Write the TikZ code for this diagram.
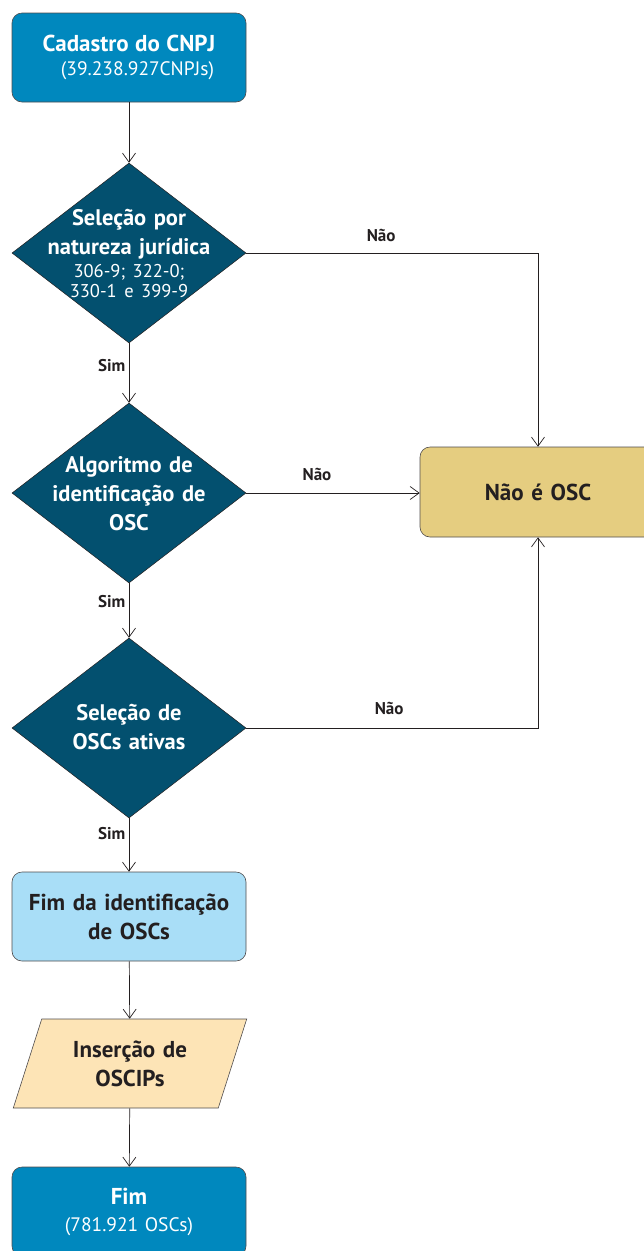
\documentclass[tikz,border=0pt]{standalone}
\usepackage{fontspec}
\setmainfont{PT Sans}
\usetikzlibrary{shapes.geometric,arrows.meta}

\definecolor{cnpjblue}{RGB}{0,136,190}
\definecolor{decblue}{RGB}{3,80,111}
\definecolor{naosand}{RGB}{229,205,128}
\definecolor{fimsky}{RGB}{169,222,247}
\definecolor{oscpeach}{RGB}{253,228,182}
\definecolor{inkgray}{RGB}{35,31,32}

\newcommand{\bigfont}{\bfseries\fontsize{23}{29}\selectfont}
\newcommand{\subfont}{\mdseries\fontsize{19.5}{24}\selectfont}

\begin{document}
\begin{tikzpicture}[x=1pt,y=-1pt,
  box/.style={draw=inkgray!80, line width=0.6pt, rounded corners=10pt,
    minimum width=234pt, minimum height=89pt, inner sep=0pt,
    text width=230pt, align=center},
  decision/.style={diamond, draw=inkgray, line width=0.5pt, fill=decblue,
    minimum width=234pt, minimum height=180pt, inner sep=0pt},
  big/.style={font=\bigfont},
  dtext/.style={font=\bfseries\fontsize{22.5}{29}\selectfont, text=white,
    text width=210pt, align=center, inner sep=0pt},
  flow/.style={-{Straight Barb[length=9pt,width=13pt]}, line width=0.7pt, draw=inkgray},
  answer/.style={font=\bfseries\fontsize{17}{20}\selectfont, text=inkgray}
]
\useasboundingbox (0,0) rectangle (644,1251);

% blocos principais
\node[box, fill=cnpjblue, text=white, font=\subfont] (cnpj) at (129,57.5)
  {{\bigfont Cadastro do CNPJ}\\\hspace*{17pt}(39.238.927CNPJs)};

\node[decision] (natj) at (129,253) {};
\node[dtext] (natjT) at (129,253)
  {Seleção por\\natureza jurídica\\[-6pt]
   \mdseries\fontsize{18.5}{29}\selectfont 306-9; 322-0;\\[-9pt]330-1 e 399-9};

\node[decision] (algo) at (129,493) {};
\node[dtext] (algoT) at (129,494) {Algoritmo de\\identificação de\\OSC};

\node[decision] (ativ) at (129,728) {};
\node[dtext] (ativT) at (129,727) {Seleção de\\OSCs ativas};

\node[box, fill=naosand, text=inkgray, big, minimum width=236pt, minimum height=90pt]
  (naoosc) at (538,492) {Não é OSC};

\node[box, fill=fimsky, text=inkgray, big] (fimid) at (129,916.5)
  {Fim da identificação\\de OSCs};

\node[trapezium, trapezium stretches=true, trapezium left angle=60.7,
  trapezium right angle=119.3, draw=inkgray!80, line width=0.6pt, fill=oscpeach,
  minimum width=234pt, minimum height=89pt, inner sep=0pt, text=inkgray, big,
  text width=160pt, align=center] (oscip) at (130,1063.5) {Inserção de\\OSCIPs};

\node[box, fill=cnpjblue, text=white, font=\subfont] (fim) at (129,1211.5)
  {{\bigfont Fim}\\[3pt](781.921 OSCs)};

% ligacoes
\draw[flow] (cnpj) -- (natj);
\draw[flow] (natj) -- node[answer, left, yshift=7pt] (sim1) {Sim} (algo);
\draw[flow] (algo) -- node[answer, left, yshift=9pt] (sim2) {Sim} (ativ);
\draw[flow] (ativ) -- node[answer, left, yshift=11pt] (sim3) {Sim} (fimid);
\draw[flow] (fimid) -- (oscip);
\draw[flow] (oscip) -- (fim);

\draw[flow] (natj.east) -- node[answer, above, xshift=-11pt, yshift=8pt] (nao1) {Não}
  (naoosc.north |- natj.east) -- (naoosc.north);
\draw[flow] (algo.east) -- node[answer, above, xshift=-16pt, yshift=9pt] (nao2) {Não}
  (naoosc.west |- algo.east);
\draw[flow] (ativ.east) -- node[answer, above, xshift=-3pt, yshift=10pt] (nao3) {Não}
  (naoosc.south |- ativ.east) -- (naoosc.south);
\end{tikzpicture}
\end{document}
